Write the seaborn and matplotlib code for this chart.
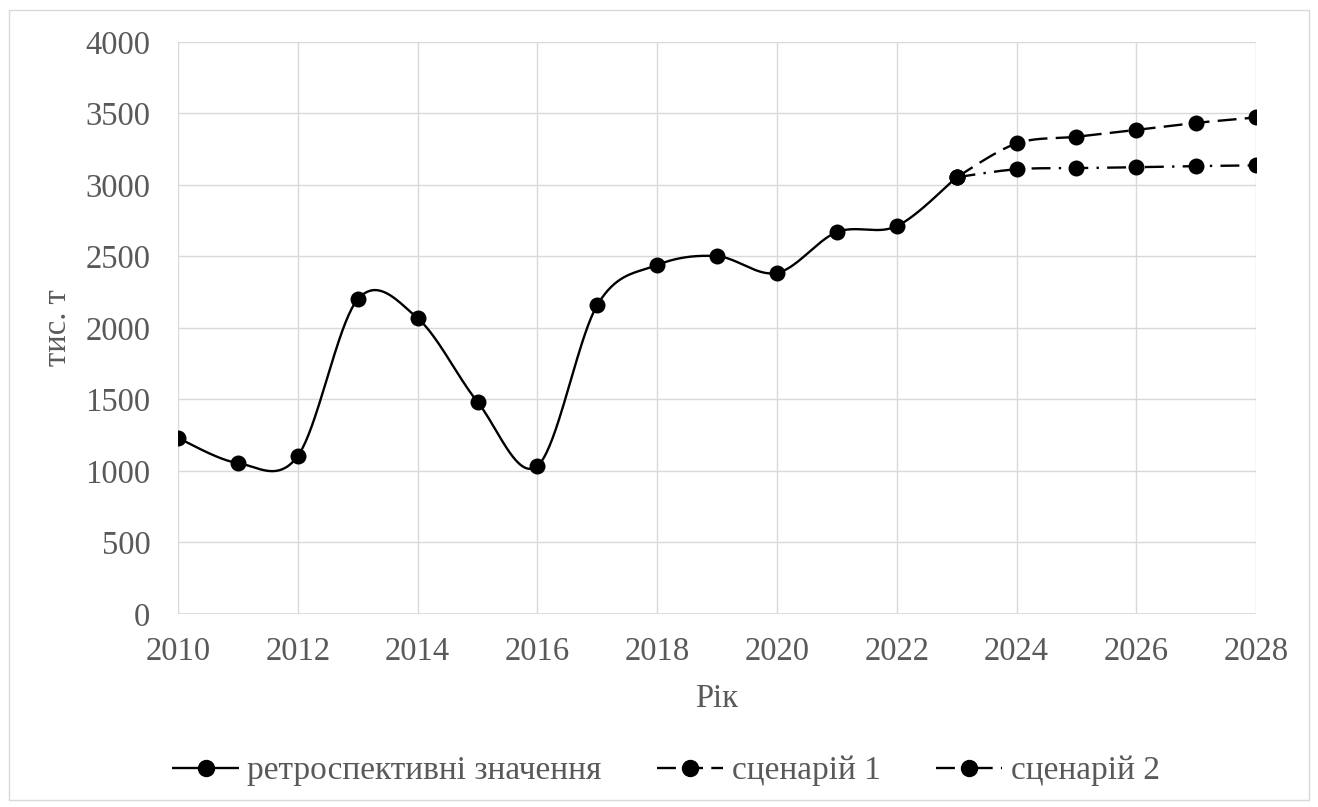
import numpy as np
import seaborn as sns
from matplotlib import pyplot as plt
from matplotlib.lines import Line2D
from matplotlib.patches import Rectangle

years_hist = [2010, 2011, 2012, 2013, 2014, 2015, 2016, 2017, 2018, 2019, 2020, 2021, 2022, 2023]
values_hist = [1230, 1055, 1105, 2200, 2068, 1483, 1035, 2160, 2440, 2502, 2385, 2670, 2712, 3054]
years_scen = [2023, 2024, 2025, 2026, 2027, 2028]
values_scen1 = [3054, 3290, 3337, 3385, 3434, 3472]
values_scen2 = [3054, 3110, 3118, 3124, 3132, 3137]
labels = ["ретроспективні значення", "сценарій 1", "сценарій 2"]
x_ticks = list(range(2010, 2029, 2))
y_ticks = list(range(0, 4001, 500))


def smooth(x, y, n=40):
    # excel-like smoothed line: catmull-rom segments as cubic beziers
    pts = np.column_stack([x, y]).astype(float)
    ext = np.vstack([pts[0], pts, pts[-1]])
    t = np.linspace(0, 1, n)[:, None]
    out = []
    for i in range(1, len(ext) - 2):
        p0, p1, p2, p3 = ext[i - 1], ext[i], ext[i + 1], ext[i + 2]
        c1 = p1 + (p2 - p0) / 6
        c2 = p2 - (p3 - p1) / 6
        seg = ((1 - t) ** 3) * p1 + 3 * ((1 - t) ** 2) * t * c1 + 3 * (1 - t) * t ** 2 * c2 + t ** 3 * p2
        out.append(seg if i == 1 else seg[1:])
    out = np.vstack(out)
    return out[:, 0], out[:, 1]


sns.set_style("white")
plt.rcParams['font.family'] = ['Liberation Serif', 'DejaVu Serif']

fig = plt.figure(figsize=(13.18, 8.07), dpi=100)
ax = fig.add_axes([0.1351, 0.2392, 0.8179, 0.7088])

lw = 1.7
ms = 11.5
fs = 23.5
styles = [
    (years_hist, values_hist, (0, ())),
    (years_scen, values_scen1, (0, (8, 3.5))),
    (years_scen, values_scen2, (0, (8, 3.5, 1, 3.5))),
]

for xs, ys, ls in styles:
    sx, sy = smooth(xs, ys)
    sns.lineplot(x=sx, y=sy, ax=ax, color="black", linewidth=lw, linestyle=ls,
                 sort=False, estimator=None, zorder=3)
    sns.scatterplot(x=xs, y=ys, ax=ax, color="black", s=ms ** 2, edgecolor="black",
                    linewidth=0, zorder=4)

ax.set_xlim(2010, 2028)
ax.set_ylim(0, 4000)
ax.set_xticks(x_ticks)
ax.set_yticks(y_ticks)
ax.grid(True, color="#d9d9d9", linewidth=1.0)
for s in ax.spines.values():
    s.set_visible(False)
ax.axhline(0, color="#d9d9d9", linewidth=1.2, zorder=1)
ax.tick_params(axis="both", length=0, labelsize=fs, labelcolor="#595959")
ax.tick_params(axis="y", pad=20)
ax.tick_params(axis="x", pad=16)

ax.set_xlabel("Рік", fontsize=fs, color="#595959", labelpad=12)
ax.set_ylabel("тис. т", fontsize=fs, color="#595959", labelpad=9)

handles = [Line2D([0], [0], color="black", linewidth=lw, linestyle=ls, marker="o",
                  markersize=ms, markerfacecolor="black", markeredgecolor="black")
           for _, _, ls in styles]
fig.legend(handles, labels, loc="center", bbox_to_anchor=(0.5053, 0.0446), ncol=3,
           frameon=False, fontsize=24, labelcolor="#595959", handlelength=2.0,
           handletextpad=0.25, columnspacing=1.65)

fig.patches.append(Rectangle((9 / 1318, 7 / 807), 1300 / 1318, 790 / 807,
                             transform=fig.transFigure, fill=False,
                             edgecolor="#d9d9d9", linewidth=1.0))

fig.savefig("out.png", dpi=100)
